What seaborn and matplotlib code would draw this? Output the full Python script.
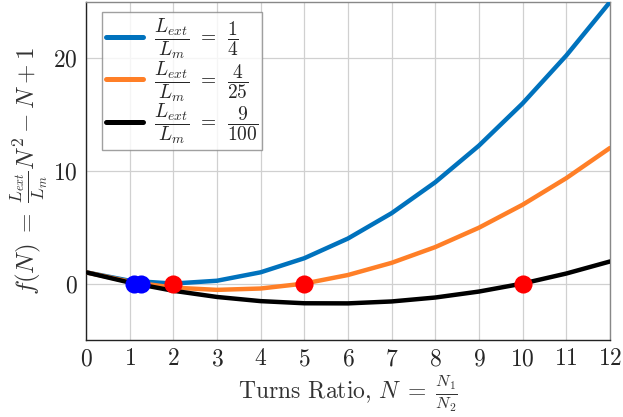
import matplotlib
matplotlib.use("Agg")
import matplotlib.pyplot as plt
import seaborn as sns
import pandas as pd

N = list(range(13))
f_quarter = [1, 0.25, 0, 0.25, 1, 2.25, 4, 6.25, 9, 12.25, 16, 20.25, 25]
f_4_25 = [1, 0.16, -0.36, -0.56, -0.44, 0, 0.76, 1.84, 3.24, 4.96, 7, 9.36, 12.04]
f_9_100 = [1, 0.09, -0.64, -1.19, -1.56, -1.75, -1.76, -1.59, -1.24, -0.71, 0, 0.89, 1.96]
labels = [r"$\dfrac{L_{ext}}{L_m}\;\,=\;\,\dfrac{1}{4}$",
          r"$\dfrac{L_{ext}}{L_m}\;\,=\;\,\dfrac{4}{25}$",
          r"$\dfrac{L_{ext}}{L_m}\;\,=\;\,\dfrac{9}{100}$"]
colors = ["#0072BD", "#FF7F27", "#000000"]

red_x = [2, 5, 10]
red_y = [0, 0, 0]
blue_x = [1.111, 1.25]
blue_y = [0, 0]

sns.set_theme(style="white")
plt.rcParams["font.family"] = ["cmr10", "DejaVu Serif"]
plt.rcParams["mathtext.fontset"] = "cm"
plt.rcParams["axes.unicode_minus"] = False
plt.rcParams["axes.formatter.use_mathtext"] = True

df = pd.DataFrame({
    "N": N * 3,
    "f": f_quarter + f_4_25 + f_9_100,
    "series": [labels[0]] * 13 + [labels[1]] * 13 + [labels[2]] * 13,
})

fig = plt.figure(figsize=(6.23, 4.17), dpi=100)
ax = fig.add_axes([0.138, 0.185, 0.841, 0.81])

sns.lineplot(data=df, x="N", y="f", hue="series", hue_order=labels,
             palette=colors, linewidth=3.2, ax=ax, zorder=3)
sns.scatterplot(x=blue_x, y=blue_y, color="#0000FF", s=170, linewidth=0,
                ax=ax, zorder=4, legend=False)
sns.scatterplot(x=red_x, y=red_y, color="#FF0000", s=170, linewidth=0,
                ax=ax, zorder=4, legend=False)

ax.set_xlim(0, 12)
ax.set_ylim(-5, 25)
ax.set_xticks(range(13))
ax.set_yticks([0, 10, 20])
ax.grid(True, color="#d0d0d0", linewidth=0.9, zorder=0)
ax.set_axisbelow(True)
ax.tick_params(axis="both", labelsize=17, length=0, pad=6)
for s in ["left", "bottom"]:
    ax.spines[s].set_color("#222222")
    ax.spines[s].set_linewidth(1.0)
for s in ["top", "right"]:
    ax.spines[s].set_color("#888888")
    ax.spines[s].set_linewidth(1.0)

ax.set_xlabel(r"Turns Ratio, $N\;=\;\frac{N_1}{N_2}$", fontsize=17, color="#333333", labelpad=2)
ax.set_ylabel(r"$f(N)\;=\;\frac{L_{ext}}{L_m}N^2-N+1$", fontsize=18, color="#333333", labelpad=2)

leg = ax.legend(loc="upper left", bbox_to_anchor=(0.03, 0.97), fontsize=14,
                frameon=True, fancybox=False, edgecolor="#888888",
                handlelength=1.9, labelspacing=-0.1, borderpad=0.2,
                handletextpad=0.6, borderaxespad=0)
leg.get_frame().set_linewidth(1.0)
for line in leg.get_lines():
    line.set_linewidth(3.6)

fig.savefig("out.png", dpi=100)
